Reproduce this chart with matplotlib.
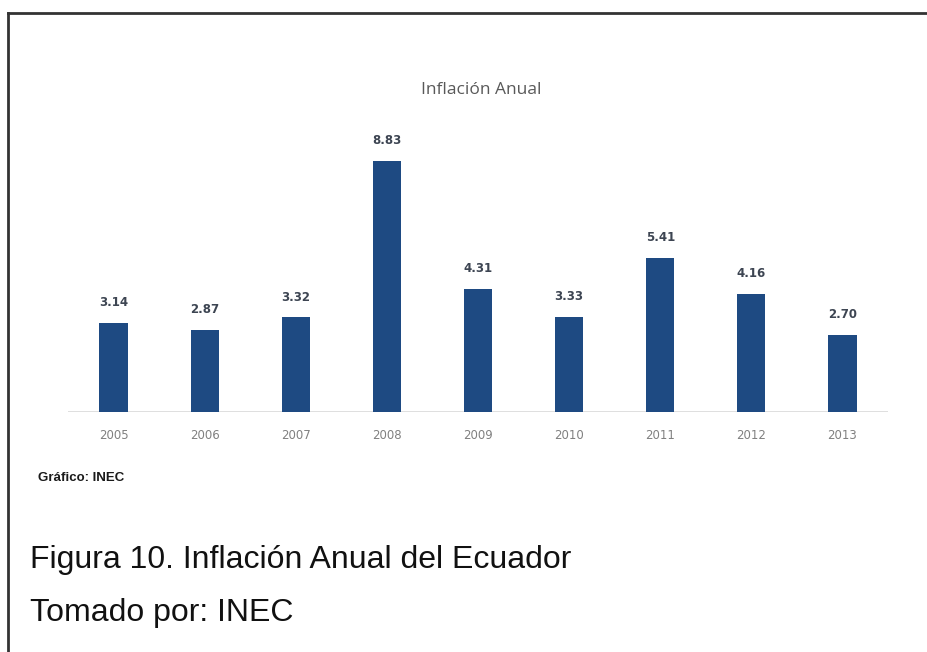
import matplotlib
matplotlib.use("Agg")
import matplotlib.pyplot as plt
from matplotlib.lines import Line2D

# Annual inflation, Ecuador (%)
years = ["2005", "2006", "2007", "2008", "2009", "2010", "2011", "2012", "2013"]
inflation = [3.14, 2.87, 3.32, 8.83, 4.31, 3.33, 5.41, 4.16, 2.70]

chart_title = "Inflación Anual"
source_note = "Gráfico: INEC"
caption = "Figura 10. Inflación Anual del Ecuador"
credit = "Tomado por: INEC"

W, H = 927, 652
fig = plt.figure(figsize=(W / 100, H / 100), dpi=100)
fig.patch.set_facecolor("white")

# plot area in pixel terms: baseline at y=412, x from 68 to 888
left, right = 68 / W, 888 / W
bottom, top = 1 - 412 / H, 1 - 127.2 / H
ax = fig.add_axes([left, bottom, right - left, top - bottom])

x = list(range(len(years)))
ax.bar(x, inflation, width=0.31, color="#1e4a82", zorder=3)
ax.set_xlim(-0.5, len(years) - 0.5)
ax.set_ylim(0, 10)

for xi, v in zip(x, inflation):
    ax.annotate(f"{v:.2f}", (xi, v), xytext=(0, 10), textcoords="offset points",
                ha="center", va="bottom", fontsize=8.5, fontweight="bold",
                color="#3d4552", family="DejaVu Sans")

ax.axhline(0, color="#d9d9d9", lw=1.2, zorder=2)
for s in ax.spines.values():
    s.set_visible(False)
ax.set_yticks([])
ax.set_xticks(x)
ax.set_xticklabels(years, fontsize=8.5, color="#808080", family="DejaVu Sans")
ax.tick_params(axis="x", length=0, pad=12)

fig.text(481 / W, 1 - 90 / H, chart_title, ha="center", va="center",
         fontsize=12.5, color="#595959", family="Open Sans")

fig.text(38 / W, 1 - 478 / H, source_note, ha="left", va="center",
         fontsize=9.5, fontweight="bold", color="#1a1a1a",
         family=["Liberation Sans Narrow", "Liberation Sans"])

fig.text(30 / W, 1 - 560 / H, caption, ha="left", va="center",
         fontsize=23, color="#111111", family="Liberation Sans")
fig.text(30 / W, 1 - 613 / H, credit, ha="left", va="center",
         fontsize=23, color="#111111", family="Liberation Sans")

# frame lines (top and left)
fig.add_artist(Line2D([8 / W, 1.0], [1 - 13 / H, 1 - 13 / H],
                      transform=fig.transFigure, color="#333333", lw=2))
fig.add_artist(Line2D([8 / W, 8 / W], [0, 1 - 13 / H],
                      transform=fig.transFigure, color="#333333", lw=2))

fig.savefig("out.png", dpi=100, facecolor="white")
